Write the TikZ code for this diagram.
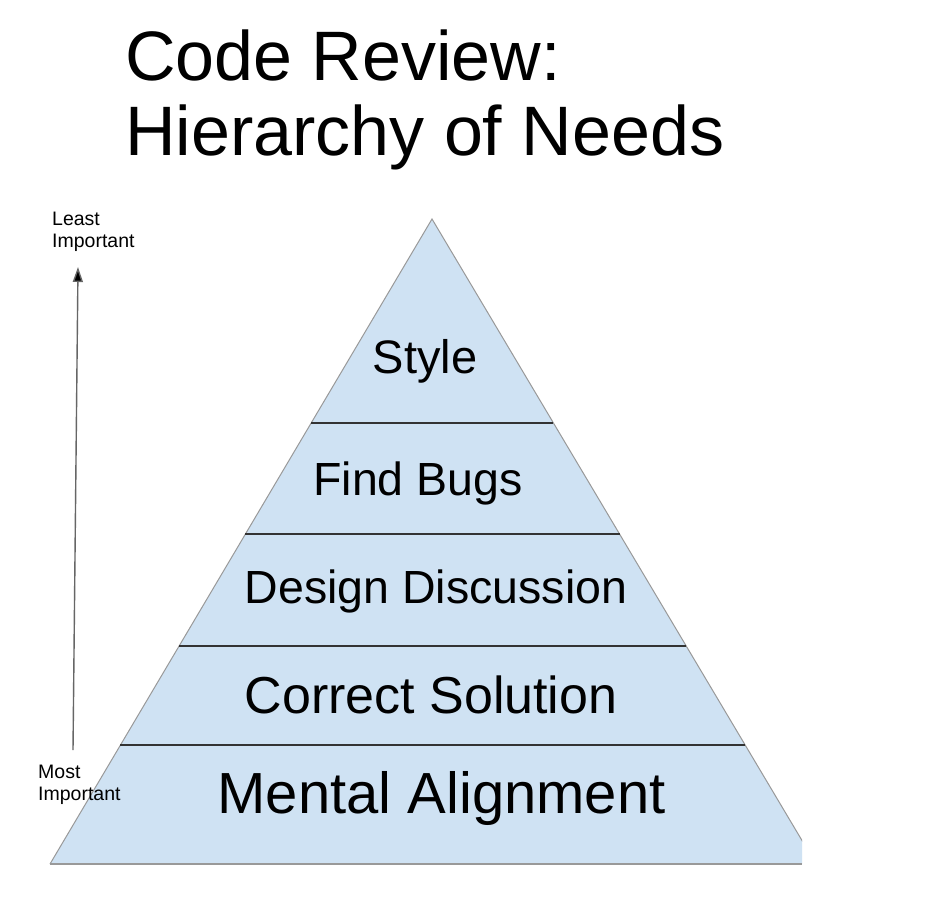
\documentclass[tikz,border=0pt]{standalone}
\usepackage{fontspec}
\setmainfont{Liberation Sans}
\usetikzlibrary{calc,arrows.meta}
\definecolor{pyrfill}{HTML}{CFE2F3}
\definecolor{pyredge}{HTML}{999999}
\definecolor{sepline}{HTML}{333333}
\tikzset{
  lvltext/.style={anchor=base,inner sep=0pt,text=black},
  smalllabel/.style={anchor=base west,inner sep=0pt,font=\fontsize{19.5}{21.5}\selectfont,align=left},
  titletext/.style={anchor=base west,inner sep=0pt,font=\fontsize{70}{75}\selectfont},
  sepstyle/.style={draw=sepline,line width=1.3pt},
}
\begin{document}
\begin{tikzpicture}[x=1pt,y=-1pt]
\useasboundingbox (0,0) rectangle (947,913);
\fill[white] (0,0) rectangle (947,913);
% title
\node[titletext] (t1) at (125,80) {Code Review:};
\node[titletext] (t2) at (125,155) {Hierarchy of Needs};
% pyramid
\coordinate (apex) at (432,219);
\coordinate (bl) at (50,864);
\coordinate (br) at (816,864);
\begin{scope}
\clip (0,0) rectangle (802,913);
\fill[pyrfill] (bl) -- (apex) -- (br) -- cycle;
\draw[pyredge,line width=1pt] (bl) -- (apex) -- (br);
\end{scope}
\draw[pyredge,line width=2pt] (bl) -- (802,864);
% separators
\foreach \yy in {423,534,646,745}{
  \pgfmathsetmacro{\tt}{(\yy-219)/645}
  \draw[sepstyle] ($(apex)!\tt!(bl)$) -- ($(apex)!\tt!(br)$);
}
% level labels
\node[lvltext,font=\fontsize{47}{47}\selectfont] (style) at (425,373) {Style};
\node[lvltext,font=\fontsize{46.5}{47}\selectfont] (bugs) at (418,495) {Find Bugs};
\node[lvltext,font=\fontsize{46.5}{47}\selectfont] (design) at (436,603) {Design Discussion};
\node[lvltext,font=\fontsize{52}{52}\selectfont] (correct) at (431,713) {Correct Solution};
\node[lvltext,font=\fontsize{58}{58}\selectfont] (mental) at (441.5,813) {Mental Alignment};
% side arrow
\node[smalllabel] (least) at (52,247) {Least\\Important};
\node[smalllabel] (most) at (38,800) {Most\\Important};
\coordinate (abot) at (73,750);
\coordinate (atop) at (78,267);
\draw[draw=black!60,line width=1.4pt,-{Triangle[length=15pt,width=10pt,fill=black]}] (abot) -- (atop);
\end{tikzpicture}
\end{document}
